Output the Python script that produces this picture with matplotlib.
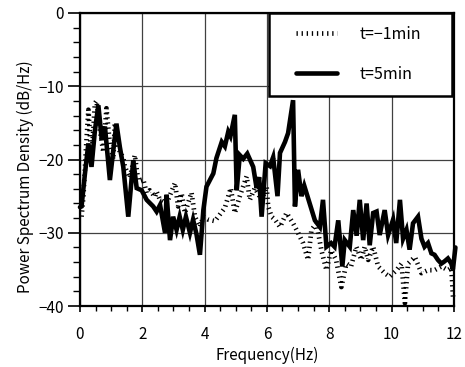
import matplotlib
matplotlib.use("Agg")
import numpy as np
import matplotlib.pyplot as plt
from matplotlib.ticker import MultipleLocator
from matplotlib.legend_handler import HandlerLine2D

plt.rcParams['font.family'] = ['Noto Sans CJK JP', 'DejaVu Sans']

# t=5min (solid)
freq_after = [0.0, 0.05, 0.16, 0.27, 0.37, 0.48, 0.59, 0.70, 0.80, 0.96, 1.07, 1.17, 1.28, 1.39,
              1.55, 1.71, 1.82, 1.98, 2.14, 2.35, 2.46, 2.57, 2.73, 2.78, 2.89, 2.99, 3.10, 3.20,
              3.30, 3.40, 3.53, 3.63, 3.74, 3.85, 3.96, 4.06, 4.28, 4.38, 4.55, 4.65, 4.76, 4.83,
              4.97, 5.03, 5.13, 5.24, 5.37, 5.56, 5.67, 5.75, 5.83, 5.96, 6.10, 6.20, 6.34, 6.42,
              6.58, 6.68, 6.84, 6.90, 7.00, 7.11, 7.20, 7.33, 7.54, 7.70, 7.80, 7.91, 8.06, 8.17,
              8.29, 8.42, 8.50, 8.66, 8.77, 8.88, 8.98, 9.09, 9.20, 9.30, 9.41, 9.52, 9.62, 9.78,
              9.89, 10.05, 10.15, 10.27, 10.37, 10.48, 10.58, 10.69, 10.85, 10.96, 11.06, 11.17,
              11.28, 11.38, 11.49, 11.60, 11.70, 11.81, 11.92, 11.97, 12.05]
psd_after = [-26.5, -26.4, -21.9, -17.8, -21.0, -16.0, -12.6, -17.3, -15.5, -22.8, -18.7, -15.1, -18.3, -21.0,
             -27.8, -20.1, -23.9, -24.2, -25.5, -26.4, -27.1, -26.2, -30.0, -24.8, -31.0, -27.8, -29.6, -27.8,
             -29.6, -27.8, -30.0, -28.2, -30.2, -33.0, -26.9, -23.7, -21.9, -19.8, -17.6, -18.2, -16.2, -16.8,
             -13.9, -24.2, -19.4, -19.9, -19.2, -21.0, -23.9, -22.4, -27.8, -20.5, -20.9, -19.7, -25.0, -19.1,
             -17.6, -16.4, -11.9, -26.4, -21.4, -25.0, -23.6, -25.4, -28.3, -29.2, -25.5, -31.9, -31.4, -31.9,
             -28.3, -34.6, -31.0, -31.9, -26.9, -30.4, -25.5, -31.0, -26.0, -31.7, -27.3, -27.1, -30.3, -26.9,
             -30.3, -28.2, -31.4, -25.5, -30.8, -29.6, -32.3, -28.7, -27.8, -30.8, -31.9, -31.4,
             -32.8, -33.0, -33.7, -34.2, -33.9, -33.5, -34.2, -35.0, -32.0]

# t=-1min (dotted)
freq_before = [0.05, 0.11, 0.20, 0.27, 0.37, 0.48, 0.53, 0.64, 0.75, 0.85, 0.96, 1.07, 1.12, 1.23,
               1.39, 1.44, 1.60, 1.76, 1.87, 2.03, 2.14, 2.24, 2.41, 2.46, 2.57, 2.78, 3.05, 3.15,
               3.26, 3.37, 3.58, 3.69, 3.85, 3.96, 4.12, 4.33, 4.49, 4.65, 4.84, 4.97, 5.13, 5.35,
               5.45, 5.61, 5.83, 5.99, 6.04, 6.15, 6.26, 6.42, 6.63, 6.84, 7.00, 7.16, 7.32, 7.43,
               7.59, 7.75, 7.91, 8.06, 8.22, 8.39, 8.55, 8.70, 8.87, 9.03, 9.14, 9.25, 9.41, 9.57,
               9.78, 9.94, 10.16, 10.32, 10.43, 10.53, 10.75, 10.96, 11.17, 11.38, 11.60, 11.81,
               11.92, 11.98]
psd_before = [-27.8, -25.0, -18.0, -13.2, -20.0, -12.3, -12.0, -16.0, -19.0, -13.0, -18.0, -20.0, -15.0, -18.5,
              -19.8, -21.0, -22.5, -19.4, -22.9, -22.7, -24.6, -24.2, -25.1, -24.4, -25.5, -26.0, -23.2, -26.4,
              -24.6, -27.3, -24.5, -27.8, -29.2, -27.8, -28.2, -28.4, -27.5, -26.6, -23.9, -27.3, -25.0, -22.3,
              -25.5, -23.9, -25.5, -23.7, -26.4, -27.8, -28.2, -29.2, -27.3, -28.7, -30.0, -31.4, -33.7, -29.6,
              -28.7, -32.4, -35.1, -32.4, -33.7, -37.4, -34.2, -34.6, -31.9, -33.7, -31.9, -33.7, -31.9, -34.6,
              -35.5, -36.0, -35.1, -34.2, -39.6, -34.2, -33.3, -35.5, -35.1, -35.1, -34.6, -35.1,
              -34.8, -39.2]

labels = ["t=\u22121min", "t=5min"]
x_ticks = [0, 2, 4, 6, 8, 10, 12]
y_ticks = [-40, -30, -20, -10, 0]


class OffsetLineHandler(HandlerLine2D):
    """Draw the legend line only in the right part of the handle box."""
    def __init__(self, line_len, **kw):
        super().__init__(**kw)
        self.line_len = line_len

    def get_xdata(self, legend, xdescent, ydescent, width, height, fontsize):
        x1 = -xdescent + width
        x0 = x1 - self.line_len
        return np.array([x0, x1]), np.array([0.5 * (x0 + x1)])


fig = plt.figure(figsize=(4.65, 3.67), dpi=100)
ax = fig.add_axes([0.172, 0.166, 0.804, 0.7986])

l1, = ax.plot(freq_before, psd_before, color='black', lw=3.4, dashes=(0.28, 0.8),
              dash_capstyle='butt', label=labels[0], zorder=3, clip_on=False)
l2, = ax.plot(freq_after, psd_after, color='black', lw=3.3, label=labels[1], zorder=4,
              solid_joinstyle='miter', solid_capstyle='round', clip_on=False)

ax.set_xlim(0, 12)
ax.set_ylim(-40, 0)
ax.set_xticks(x_ticks)
ax.set_yticks(y_ticks)
ax.xaxis.set_minor_locator(MultipleLocator(0.5))
ax.yaxis.set_minor_locator(MultipleLocator(2))
ax.tick_params(axis='y', which='major', direction='out', length=8.6, width=1.2, labelsize=11, pad=3)
ax.tick_params(axis='y', which='minor', direction='out', length=5, width=1.0)
ax.tick_params(axis='x', which='major', direction='out', length=4.3, width=1.2, labelsize=11, pad=10)
ax.tick_params(axis='x', which='minor', direction='out', length=3.6, width=1.0)
ax.grid(True, which='major', color='0.25', lw=0.9)
for s in ax.spines.values():
    s.set_linewidth(1.6)
    s.set_color('black')

ax.set_xlabel("Frequency(Hz)", fontsize=11, labelpad=3)
ax.set_ylabel("Power Spectrum Density (dB/Hz)", fontsize=11)
ax.yaxis.set_label_coords(-0.123, 0.44)

lfs = 11.5
leg = ax.legend(handles=[l1, l2], loc='upper left', bbox_to_anchor=(0.505, 0.0, 0.489, 1.0),
                mode='expand', fancybox=False, edgecolor='black', framealpha=1,
                fontsize=lfs, borderpad=0.8, labelspacing=1.45, handlelength=3.5,
                handletextpad=1.375, borderaxespad=0.0,
                handler_map={l1: OffsetLineHandler(29.5), l2: OffsetLineHandler(29.5)})
leg.get_frame().set_linewidth(1.8)

fig.savefig("out.png", dpi=100)
